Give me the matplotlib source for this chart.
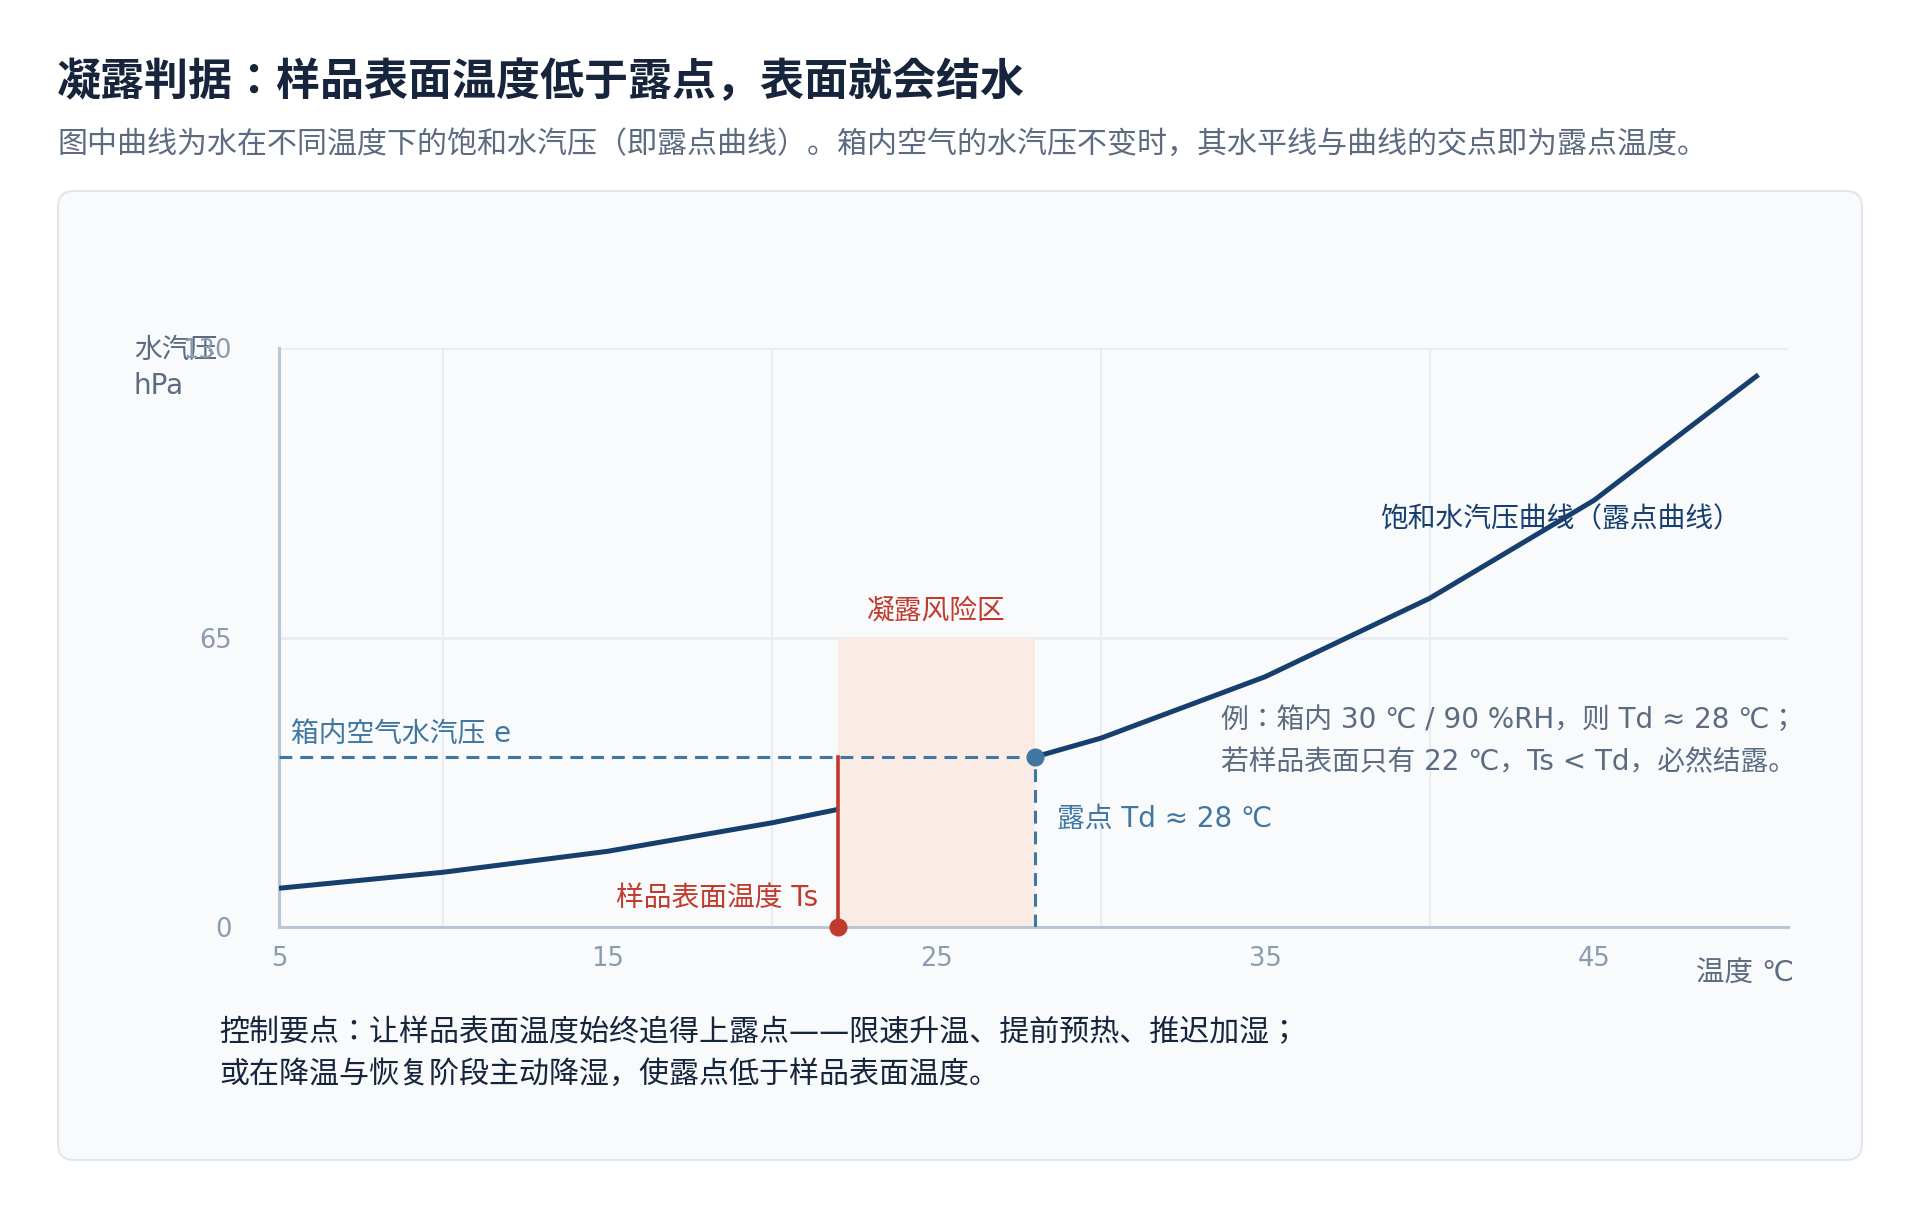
import matplotlib
matplotlib.use("Agg")
import matplotlib.pyplot as plt
from matplotlib.patches import FancyBboxPatch

plt.rcParams['font.family'] = ['DejaVu Sans', 'Noto Sans CJK JP']

# saturation vapour pressure curve (hPa), split around the risk zone
temps_low = [5, 10, 15, 20, 22]
pres_low = [8.7, 12.3, 17.0, 23.4, 26.4]
temps_high = [28, 30, 35, 40, 45, 50]
pres_high = [38.2, 42.4, 56.2, 73.8, 95.8, 124.0]

e_box = 38.2        # vapour pressure inside chamber
t_surface = 22      # sample surface temperature
t_dew = 28          # dew point
risk_top = 65

x_ticks = [5, 15, 25, 35, 45]
x_grid = [10, 20, 30, 40]
y_ticks = [0, 65, 130]

NAVY = "#173f6e"
BLUE = "#3f77a0"
RED = "#c23a2c"
PINK = "#fbebe5"
SPINE = "#b9c6d6"
GRID = "#e8edf3"
TICK = "#8b9bb0"
GREY = "#5c6b80"
DARK = "#16243c"
FS = 20

W, H = 1920, 1214
fig = plt.figure(figsize=(W / 100, H / 100), dpi=100)
fig.patch.set_facecolor("white")

# background axes in pixel coords for panel + free text
bg = fig.add_axes([0, 0, 1, 1], zorder=0)
bg.set_xlim(0, W)
bg.set_ylim(H, 0)
bg.axis("off")
bg.add_patch(FancyBboxPatch((58, 191), 1804, 969,
                            boxstyle="round,pad=0,rounding_size=16",
                            fc="#f8fafc", ec="#e1e7ef", lw=1.5))
bg.text(57, 82, "凝露判据：样品表面温度低于露点，表面就会结水",
        fontsize=31.7, fontweight="bold", color=DARK, va="center", ha="left")
bg.text(57, 144, "图中曲线为水在不同温度下的饱和水汽压（即露点曲线）。箱内空气的水汽压不变时，其水平线与曲线的交点即为露点温度。",
        fontsize=21.6, color=GREY, va="center", ha="left")
bg.text(134, 350, "水汽压", fontsize=FS, color=GREY, va="center", ha="left")
bg.text(134, 386, "hPa", fontsize=FS, color=GREY, va="center", ha="left")
bg.text(1794, 974, "温度 ℃", fontsize=20.5, color=GREY, va="center", ha="right")
bg.text(219, 1033, "控制要点：让样品表面温度始终追得上露点——限速升温、提前预热、推迟加湿；",
        fontsize=21.6, color=DARK, va="center", ha="left")
bg.text(219, 1074, "或在降温与恢复阶段主动降湿，使露点低于样品表面温度。",
        fontsize=21.6, color=DARK, va="center", ha="left")

ax = fig.add_axes([279 / W, 1 - 927 / H, (1788 - 279) / W, (927 - 348) / H], zorder=1)
ax.patch.set_alpha(0)
ax.set_xlim(5, 50.9)
ax.set_ylim(0, 130)

for g in x_grid:
    ax.axvline(g, color=GRID, lw=1.5, zorder=0)
for g in y_ticks[1:]:
    ax.axhline(g, color=GRID, lw=2, zorder=0)

for s in ("top", "right"):
    ax.spines[s].set_visible(False)
for s in ("left", "bottom"):
    ax.spines[s].set_color(SPINE)
    ax.spines[s].set_linewidth(2.2)

ax.set_xticks(x_ticks)
ax.set_yticks(y_ticks)
ax.tick_params(axis="x", length=0, pad=14, labelsize=18.5, labelcolor=TICK)
ax.tick_params(axis="y", length=0, pad=34, labelsize=18.5, labelcolor=TICK)

# risk zone
ax.fill_between([t_surface, t_dew], 0, risk_top, color=PINK, lw=0, zorder=1)
ax.text((t_surface + t_dew) / 2, 71, "凝露风险区", fontsize=FS, color=RED,
        ha="center", va="center")

# saturation curve
ax.plot(temps_low, pres_low, color=NAVY, lw=3.6, zorder=3, solid_capstyle="butt")
ax.plot(temps_high, pres_high, color=NAVY, lw=3.6, zorder=3, solid_capstyle="butt")

# chamber vapour pressure line + dew point
ax.plot([5, t_dew], [e_box, e_box], color=BLUE, lw=2.2, ls=(0, (4.2, 2.6)), zorder=4)
ax.plot([t_dew, t_dew], [0, e_box], color=BLUE, lw=2.2, ls=(0, (4.2, 2.6)), zorder=4)
ax.plot([t_dew], [e_box], "o", color=BLUE, ms=12, zorder=6, clip_on=False)

# surface temperature
ax.plot([t_surface, t_surface], [0, e_box], color=RED, lw=2.6, zorder=5)
ax.plot([t_surface], [0], "o", color=RED, ms=12, zorder=6, clip_on=False)

ax.text(5.35, 43.3, "箱内空气水汽压 e", fontsize=FS, color=BLUE, ha="left", va="center")
ax.text(21.4, 6.6, "样品表面温度 Ts", fontsize=FS, color=RED, ha="right", va="center")
ax.text(28.65, 24.4, "露点 Td ≈ 28 ℃", fontsize=FS, color=BLUE, ha="left", va="center")
ax.text(38.5, 91.6, "饱和水汽压曲线（露点曲线）", fontsize=FS, color=NAVY,
        ha="left", va="center", zorder=7)
ax.text(33.65, 46.6, "例：箱内 30 ℃ / 90 %RH，则 Td ≈ 28 ℃；", fontsize=FS,
        color=GREY, ha="left", va="center")
ax.text(33.65, 37.0, "若样品表面只有 22 ℃，Ts < Td，必然结露。", fontsize=FS,
        color=GREY, ha="left", va="center")

fig.savefig("out.png", dpi=100)
